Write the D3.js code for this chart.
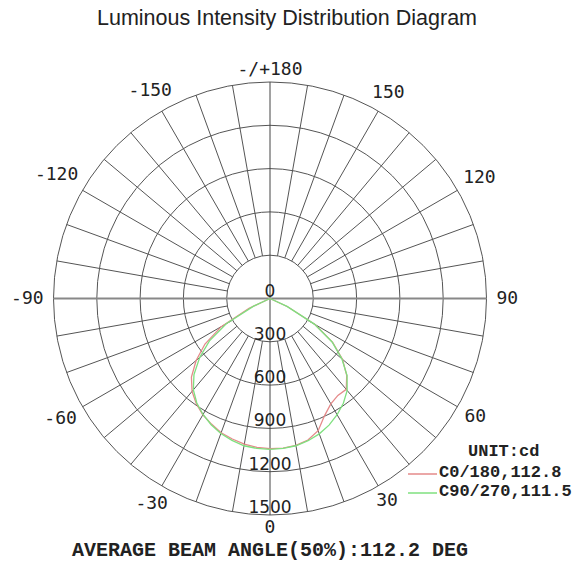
<!DOCTYPE html>
<html>
<head>
<meta charset="utf-8">
<script src="https://cdn.jsdelivr.net/npm/d3@7"></script>
<style>
  body { margin: 0; background: #fff; }
  svg { display: block; }
</style>
</head>
<body>
<svg id="chart" width="575" height="564"></svg>
<script>
// Gamma angles (deg): 0 = straight down, positive towards the right
const gammaAngles = [-90, -85, -80, -75, -70, -65, -60, -55, -50, -45, -40, -35, -30, -25, -20, -15, -10, -5,
  0, 5, 10, 15, 20, 25, 30, 35, 40, 45, 50, 55, 60, 65, 70, 75, 80, 85, 90];

// C0/180 plane (cd)
const c0_180 = [0, 0, 0, 0, 0, 160, 390, 550, 668, 770, 840, 890, 930, 960, 990, 1008, 1025, 1035,
  1040, 1040, 1033, 1015, 975, 895, 843, 820, 822, 752, 655, 530, 360, 135, 0, 0, 0, 0, 0];

// C90/270 plane (cd)
const c90_270 = [0, 0, 0, 0, 0, 125, 350, 512, 636, 745, 826, 884, 928, 965, 996, 1018, 1036, 1043,
  1045, 1043, 1036, 1020, 998, 968, 930, 886, 832, 755, 650, 525, 355, 130, 0, 0, 0, 0, 0];

const ringValues = [300, 600, 900, 1200, 1500];
const ringLabels = ['0', '300', '600', '900', '1200', '1500'];
const angleTicks = [0, 30, 60, 90, 120, 150, 180, -150, -120, -90, -60, -30];
const angleTickLabels = ['0', '30', '60', '90', '120', '150', '-/+180', '-150', '-120', '-90', '-60', '-30'];

const seriesNames = ['C0/180,112.8', 'C90/270,111.5'];
const seriesColors = ['#e58a8a', '#7fe07f'];

const svg = d3.select('#chart');
const cx = 270, cy = 298.5, R = 216.5;
const rScale = d3.scaleLinear().domain([0, 1500]).range([0, R]);
const rad = d => d * Math.PI / 180;

// title
svg.append('text')
  .attr('x', 287).attr('y', 25)
  .attr('text-anchor', 'middle')
  .style('font-family', '"Liberation Sans", Arial, sans-serif')
  .style('font-size', '21.5px')
  .attr('fill', '#222')
  .text('Luminous Intensity Distribution Diagram');

const g = svg.append('g').attr('transform', `translate(${cx},${cy})`);

// rings
g.selectAll('circle.ring')
  .data(ringValues)
  .enter().append('circle')
  .attr('class', 'ring')
  .attr('r', d => rScale(d))
  .attr('fill', 'none')
  .attr('stroke', '#555')
  .attr('stroke-width', 1);

// spokes every 10 deg, starting at the first ring
const spokes = d3.range(0, 360, 10).filter(a => a % 90 !== 0);
g.selectAll('line.spoke')
  .data(spokes)
  .enter().append('line')
  .attr('x1', a => rScale(300) * Math.sin(rad(a)))
  .attr('y1', a => rScale(300) * Math.cos(rad(a)))
  .attr('x2', a => R * Math.sin(rad(a)))
  .attr('y2', a => R * Math.cos(rad(a)))
  .attr('stroke', '#555')
  .attr('stroke-width', 1);

// main axes
g.append('line').attr('x1', 0).attr('y1', -R).attr('x2', 0).attr('y2', R)
  .attr('stroke', '#444').attr('stroke-width', 1);
g.append('line').attr('x1', -R).attr('y1', 0).attr('x2', R).attr('y2', 0)
  .attr('stroke', '#888').attr('stroke-width', 2);

// curves
const line = d3.lineRadial()
  .angle(d => rad(180 - d[0]))
  .radius(d => rScale(d[1]))
  .curve(d3.curveLinear);

[c0_180, c90_270].forEach((vals, i) => {
  const pts = gammaAngles.map((a, j) => [a, vals[j]]);
  g.append('path')
    .datum(pts)
    .attr('d', line)
    .attr('fill', 'none')
    .attr('stroke', seriesColors[i])
    .attr('stroke-width', 1.3);
});

// ring labels
g.selectAll('text.ringlab')
  .data(ringLabels)
  .enter().append('text')
  .attr('x', 0)
  .attr('y', d => rScale(+d) - 7)
  .attr('text-anchor', 'middle')
  .attr('dominant-baseline', 'middle')
  .style('font-family', '"DejaVu Sans", sans-serif')
  .style('font-size', '17px')
  .attr('fill', '#222')
  .text(d => d);

// angle labels
g.selectAll('text.anglab')
  .data(angleTicks)
  .enter().append('text')
  .each(function(a, i) {
    const label = angleTickLabels[i];
    const w = label.length * 10.8, h = 13;
    const s = Math.sin(rad(a)), c = Math.cos(rad(a));
    const rr = R + 10 - 4 * Math.abs(c) + Math.abs(s) * w / 2 + Math.abs(c) * h / 2;
    d3.select(this)
      .attr('x', rr * s)
      .attr('y', rr * c)
      .text(label);
  })
  .attr('text-anchor', 'middle')
  .attr('dominant-baseline', 'middle')
  .style('font-family', '"DejaVu Sans Mono", monospace')
  .style('font-size', '18px')
  .attr('fill', '#222');

// legend
const mono = '"Liberation Mono", "Courier New", monospace';
svg.append('text')
  .attr('x', 468).attr('y', 452)
  .attr('dominant-baseline', 'middle')
  .style('font-family', mono).style('font-size', '17px').style('font-weight', 'bold')
  .attr('fill', '#222')
  .text('UNIT:cd');

seriesNames.forEach((name, i) => {
  const y = 473 + i * 19;
  svg.append('line')
    .attr('x1', 408).attr('x2', 437).attr('y1', y + 1).attr('y2', y + 1)
    .attr('stroke', seriesColors[i]).attr('stroke-width', 1.5);
  svg.append('text')
    .attr('x', 439).attr('y', y)
    .attr('dominant-baseline', 'middle')
    .style('font-family', mono).style('font-size', '17px').style('font-weight', 'bold')
    .attr('fill', '#222')
    .text(name);
});

// beam angle note
svg.append('text')
  .attr('x', 72).attr('y', 556)
  .style('font-family', mono).style('font-size', '20px').style('font-weight', 'bold')
  .attr('fill', '#222')
  .text('AVERAGE BEAM ANGLE(50%):112.2 DEG');
</script>
</body>
</html>
